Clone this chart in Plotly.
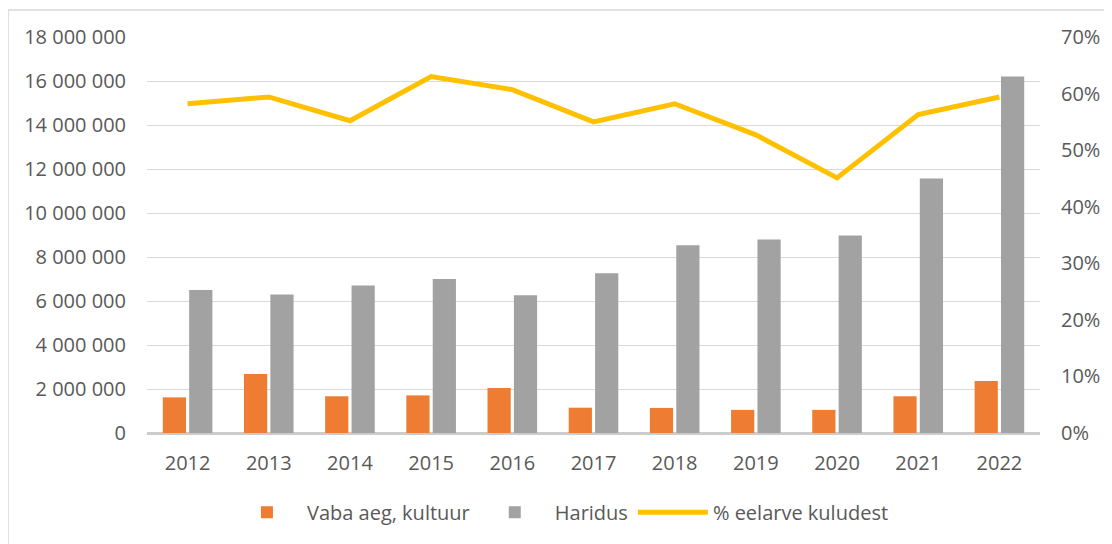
import plotly.graph_objects as go

years = ["2012", "2013", "2014", "2015", "2016", "2017", "2018", "2019", "2020", "2021", "2022"]
vaba_aeg = [1620000, 2680000, 1670000, 1710000, 2050000, 1150000, 1140000, 1050000, 1050000, 1670000, 2360000]
haridus = [6500000, 6300000, 6700000, 7000000, 6260000, 7260000, 8530000, 8800000, 8980000, 11570000, 16200000]
pct_kulud = [0.582, 0.594, 0.552, 0.630, 0.607, 0.550, 0.582, 0.527, 0.451, 0.563, 0.594]

FONT = "Open Sans"
TXT = "#595959"
GRID = "#D9D9D9"
FS = 20

fig = go.Figure()
fig.add_trace(go.Bar(
    x=years, y=vaba_aeg, name="Vaba aeg, kultuur",
    marker=dict(color="#EE7D33", line=dict(width=0)),
))
fig.add_trace(go.Bar(
    x=years, y=haridus, name="Haridus",
    marker=dict(color="#A2A2A2", line=dict(width=0)),
))
fig.add_trace(go.Scatter(
    x=years, y=pct_kulud, name="% eelarve kuludest", yaxis="y2",
    mode="lines", line=dict(color="#FFC000", width=5),
))

border = dict(color="#D9D9D9", width=1.5)
fig.update_layout(
    width=1104, height=536,
    margin=dict(l=139, r=65, t=29, b=110),
    paper_bgcolor="white", plot_bgcolor="white",
    separators=", ",
    font=dict(family=FONT, size=FS, color=TXT),
    barmode="group", bargap=0.35, bargroupgap=0.12,
    showlegend=True,
    legend=dict(orientation="h", x=0.463, xanchor="center", y=-0.2, yanchor="middle",
                font=dict(family=FONT, size=FS, color=TXT), traceorder="normal",
                itemwidth=70),
    xaxis=dict(showgrid=False, showline=False, ticks="", tickfont=dict(size=FS, color=TXT),
               ticklabelstandoff=16),
    yaxis=dict(range=[0, 18000000], dtick=2000000, tickformat=",d", showgrid=True,
               gridcolor=GRID, gridwidth=1, zeroline=True, zerolinecolor="#CCCCCC",
               zerolinewidth=2.5, showline=False, ticks="", tickfont=dict(size=FS, color=TXT),
               ticklabelstandoff=20),
    yaxis2=dict(range=[0, 0.7], dtick=0.1, tickformat=".0%", overlaying="y", side="right",
                showgrid=False, zeroline=False, showline=False, ticks="",
                tickfont=dict(size=FS, color=TXT), ticklabelstandoff=20),
    shapes=[
        dict(type="line", xref="paper", yref="paper", x0=-0.1556, x1=1.1, y0=1.068, y1=1.068,
             line=border, layer="below"),
        dict(type="line", xref="paper", yref="paper", x0=-0.1556, x1=-0.1556, y0=1.068, y1=-0.35,
             line=border, layer="below"),
    ],
)

fig.write_html("out.html")
